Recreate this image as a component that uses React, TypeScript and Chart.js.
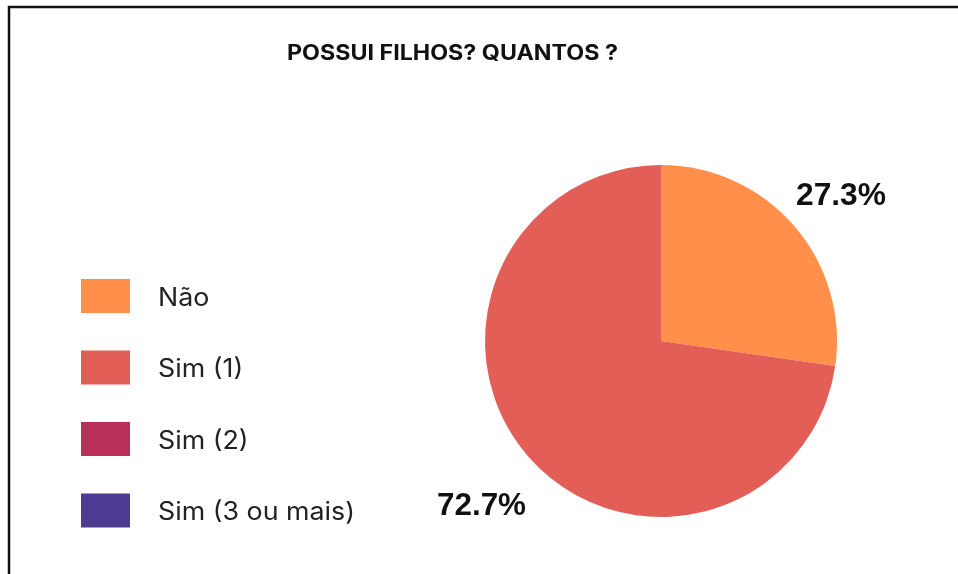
import React, { useEffect, useRef } from "react";
import { Chart, registerables } from "chart.js";

Chart.register(...registerables);

const TITLE = "POSSUI FILHOS? QUANTOS ?";
const categories = ["Não", "Sim (1)", "Sim (2)", "Sim (3 ou mais)"];
const values = [3, 8, 0, 0];
const colors = ["#FF8F4B", "#E35E57", "#BA2E5A", "#4F3A92"];

function stretchText(ctx: any, text: string, x: number, y: number, sx: number) {
  ctx.save();
  ctx.translate(x, y);
  ctx.scale(sx, 1);
  ctx.fillText(text, 0, 0);
  ctx.restore();
}

const overlayPlugin = {
  id: "overlay",
  beforeDraw(chart: any) {
    const ctx = chart.ctx;
    ctx.save();
    ctx.fillStyle = "#ffffff";
    ctx.fillRect(0, 0, chart.width, chart.height);
    ctx.strokeStyle = "#111111";
    ctx.lineWidth = 2.5;
    ctx.strokeRect(9, 7, chart.width + 20, chart.height + 20);
    ctx.restore();
  },
  afterDraw(chart: any) {
    const ctx = chart.ctx;
    ctx.save();
    ctx.textBaseline = "alphabetic";
    ctx.textAlign = "left";
    // title
    ctx.fillStyle = "#111111";
    ctx.font = "bold 21px Inter, sans-serif";
    let sx = 331 / ctx.measureText(TITLE).width;
    stretchText(ctx, TITLE, 287, 60, sx);
    // legend
    ctx.font = "25px Inter, sans-serif";
    sx = 197 / ctx.measureText(categories[3]).width;
    categories.forEach((c, i) => {
      const y = 296 + i * 71.5;
      ctx.fillStyle = colors[i];
      ctx.fillRect(81, y - 17, 49, 34);
      ctx.fillStyle = "#222222";
      stretchText(ctx, c, 158, y + 9.5, sx);
    });
    // percentage labels
    const total = values.reduce((a, b) => a + b, 0);
    ctx.font = "bold 32px 'Liberation Sans', Arial, sans-serif";
    ctx.fillStyle = "#111111";
    const pos = [
      [796, 205, 90],
      [437, 515, 89],
    ];
    values.forEach((v, i) => {
      if (!v) return;
      const pct = ((v / total) * 100).toFixed(1) + "%";
      const p = pos[i];
      if (!p) return;
      const s = p[2] / ctx.measureText(pct).width;
      stretchText(ctx, pct, p[0], p[1], s);
    });
    ctx.restore();
  },
};

export default function App() {
  const ref = useRef<HTMLCanvasElement>(null);
  useEffect(() => {
    if (!ref.current) return;
    const chart = new Chart(ref.current, {
      type: "pie",
      data: {
        labels: categories,
        datasets: [
          {
            data: values,
            backgroundColor: colors,
            borderWidth: 0,
          },
        ],
      },
      options: {
        animation: false,
        responsive: false,
        maintainAspectRatio: false,
        layout: { padding: { left: 485, right: 121, top: 165, bottom: 57 } },
        plugins: {
          legend: { display: false },
          title: { display: false },
          tooltip: { enabled: false },
        },
      },
      plugins: [overlayPlugin],
    });
    return () => chart.destroy();
  }, []);
  return (
    <div style={{ position: "absolute", left: 0, top: 0, width: 958, height: 574 }}>
      <canvas ref={ref} width={958} height={574} style={{ display: "block" }} />
    </div>
  );
}
